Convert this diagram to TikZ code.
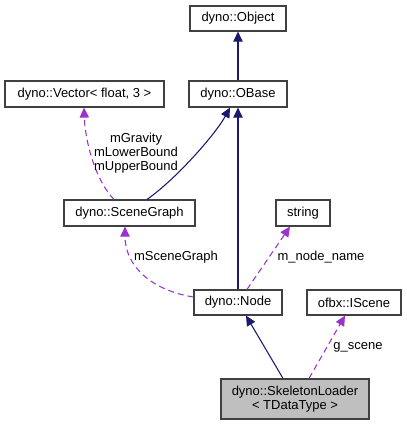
\documentclass[tikz,border=0pt]{standalone}
\usepackage{fontspec}
\setmainfont{Liberation Sans}
\usetikzlibrary{arrows.meta,calc}
\definecolor{edgeblue}{RGB}{25,25,112}
\definecolor{usepurple}{RGB}{154,50,205}
\definecolor{boxgrey}{RGB}{191,191,191}
\definecolor{framegrey}{RGB}{64,64,64}

\begin{document}
\begin{tikzpicture}[x=0.75pt,y=-0.75pt,
  font=\fontsize{9.75}{10.5}\selectfont,
  classbox/.style={draw=framegrey,line width=0.9pt,fill=white,inner sep=0pt,align=center},
  inherit/.style={draw=edgeblue,line width=0.8pt,-{Triangle[length=7.5pt,width=7pt]}},
  usage/.style={draw=usepurple,line width=0.8pt,dash pattern=on 4.5pt off 3pt,-{Triangle[length=7.5pt,width=7pt]}},
  edgelabel/.style={inner sep=0pt,align=center}]
\useasboundingbox (0,0) rectangle (407,425);
%
% classes
\node[classbox,minimum width=72pt,minimum height=18.75pt] (Object) at (238,18.5) {dyno::Object};
\node[classbox,minimum width=73.5pt,minimum height=19.5pt] (OBase) at (238,94) {dyno::OBase};
\node[classbox,minimum width=119.25pt,minimum height=19.5pt] (Vector) at (84.5,94) {dyno::Vector< float, 3 >};
\node[classbox,minimum width=98.25pt,minimum height=19.5pt] (SceneGraph) at (129.5,213) {dyno::SceneGraph};
\node[classbox,minimum width=40.5pt,minimum height=19.5pt] (String) at (303,213) {string};
\node[classbox,minimum width=66pt,minimum height=18.75pt] (Node) at (238,302.5) {dyno::Node};
\node[classbox,minimum width=70.5pt,minimum height=18.75pt] (IScene) at (354,302.5) {ofbx::IScene};
\node[classbox,fill=boxgrey,minimum width=111pt,minimum height=30pt] (Loader) at (295,399) {dyno::SkeletonLoader\\< TDataType >};
%
% inheritance
\draw[inherit] (OBase.north) -- (Object.south);
\draw[inherit] (Node.north) -- (OBase.south);
\draw[inherit] ($(SceneGraph.north)+(17.5,0)$) .. controls (175,180) and (215,135) .. ($(OBase.south)+(-8,0)$);
\draw[inherit] ($(Loader.north)+(-12,0)$) -- ($(Node.south)+(8,0)$);
%
% usage
\draw[usage] ($(SceneGraph.north)+(-15.5,0)$) .. controls (95,180) and (85,140) .. ($(Vector.south)+(-0.5,0)$);
\node[edgelabel] (VectorLabel) at (136,153) {mGravity\\mLowerBound\\mUpperBound};
\draw[usage] ($(Node.west)+(0,-5.5)$) .. controls (150,290) and (125,265) .. ($(SceneGraph.south)+(-4.5,0)$);
\node[edgelabel] (SceneGraphLabel) at (176,257) {mSceneGraph};
\draw[usage] ($(Node.north)+(9,0)$) -- ($(String.south)+(-13,0)$);
\node[edgelabel] (StringLabel) at (321,257) {m\_node\_name};
\draw[usage] ($(Loader.north)+(14,0)$) -- ($(IScene.south)+(-9,0)$);
\node[edgelabel] (ISceneLabel) at (358,347) {g\_scene};
\end{tikzpicture}
\end{document}
